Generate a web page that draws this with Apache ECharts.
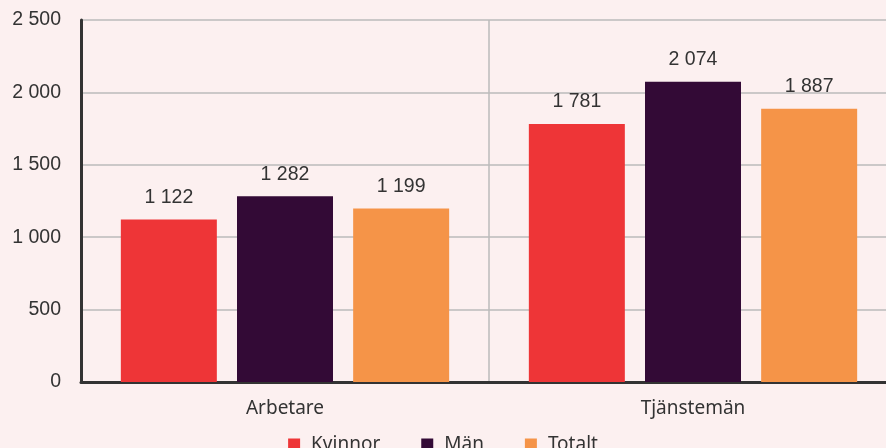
<!DOCTYPE html>
<html>
<head>
<meta charset="utf-8">
<script src="https://cdn.jsdelivr.net/npm/echarts@6/dist/echarts.min.js"></script>
<style>
  html, body { margin: 0; padding: 0; background: #fcf0f0; }
  #chart { width: 886px; height: 448px; }
</style>
</head>
<body>
<div id="chart"></div>
<script>
var categories = ['Arbetare', 'Tjänstemän'];
var kvinnor = [1122, 1781];
var man = [1282, 2074];
var totalt = [1199, 1887];
var seriesNames = ['Kvinnor', 'Män', 'Totalt'];
var colors = ['#ee3537', '#330a36', '#f59448'];

function fmt(v) {
    return String(v).replace(/\B(?=(\d{3})+(?!\d))/g, ' ');
}

var chart = echarts.init(document.getElementById('chart'));

function bar(name, data, color) {
    return {
        name: name,
        type: 'bar',
        data: data,
        barWidth: 96,
        barGap: '21%',
        itemStyle: { color: color },
        label: {
            show: true,
            position: 'top',
            distance: 12,
            color: '#333',
            fontSize: 19.5,
            fontFamily: 'Liberation Sans',
            formatter: function (p) { return fmt(p.value); }
        }
    };
}

var option = {
    backgroundColor: '#fcf0f0',
    color: colors,
    grid: { left: 81, width: 816, top: 20, bottom: 66, outerBoundsMode: 'none' },
    legend: {
        bottom: -11,
        left: 'center',
        itemWidth: 12,
        itemHeight: 12,
        itemGap: 41,
        icon: 'rect',
        textStyle: { color: '#333', fontSize: 19, fontFamily: 'Noto Sans', padding: [0, 0, 0, 6] },
        data: seriesNames
    },
    xAxis: {
        type: 'category',
        data: categories,
        axisLine: { lineStyle: { color: '#333', width: 3 } },
        axisTick: { show: false },
        axisLabel: { color: '#333', fontSize: 19, fontFamily: 'Noto Sans', margin: 17 },
        splitLine: { show: true, lineStyle: { color: '#bbb', width: 1.5 } }
    },
    yAxis: {
        type: 'value',
        min: 0,
        max: 2500,
        interval: 500,
        axisLine: { show: true, lineStyle: { color: '#333', width: 3 } },
        axisTick: { show: false },
        axisLabel: {
            color: '#333', fontSize: 19.5, fontFamily: 'Liberation Sans', margin: 20,
            formatter: function (v) { return fmt(v); }
        },
        splitLine: { lineStyle: { color: '#bbb', width: 1.5 } }
    },
    series: [
        bar(seriesNames[0], kvinnor, colors[0]),
        bar(seriesNames[1], man, colors[1]),
        bar(seriesNames[2], totalt, colors[2])
    ]
};

chart.setOption(option);
window.addEventListener('resize', function () {
    chart.resize();
});
</script>
</body>
</html>
